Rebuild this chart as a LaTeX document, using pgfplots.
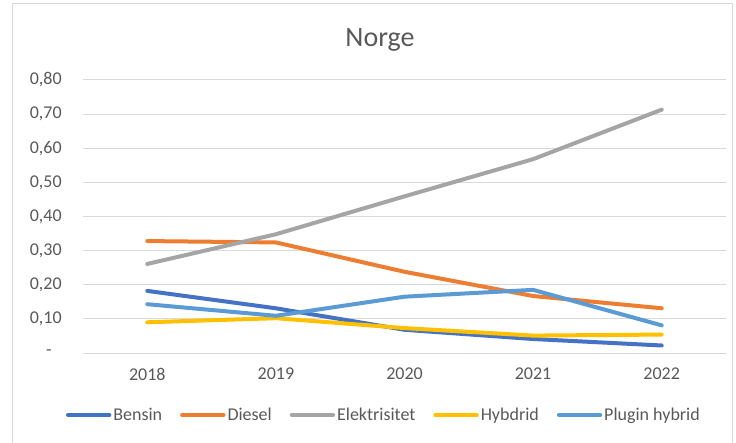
\documentclass[border=0pt]{standalone}
\usepackage{pgfplots}
\pgfplotsset{compat=1.18}
\usepackage{fontspec}
\setmainfont{Carlito}
\definecolor{txt}{HTML}{595959}
\definecolor{gridc}{HTML}{D9D9D9}
\definecolor{cBensin}{HTML}{4472C4}
\definecolor{cDiesel}{HTML}{ED7D31}
\definecolor{cEl}{HTML}{A5A5A5}
\definecolor{cHyb}{HTML}{FFC000}
\definecolor{cPlug}{HTML}{5B9BD5}
\begin{document}
\begin{tikzpicture}
% 1 px of the reference = 0.75pt
\begin{axis}[
    at={(62.25pt,67.5pt)}, anchor=south west,
    scale only axis,
    width=482.25pt, height=204.75pt,
    xmin=-0.5, xmax=4.5,
    ymin=0, ymax=0.8,
    xtick={0,1,2,3,4},
    xticklabels={2018,2019,2020,2021,2022},
    ytick={0,0.1,0.2,0.3,0.4,0.5,0.6,0.7,0.8},
    yticklabels={{-\kern7.5pt},{0,10},{0,20},{0,30},{0,40},{0,50},{0,60},{0,70},{0,80}},
    axis line style={draw=none},
    major tick length=0pt,
    ymajorgrids, grid style={gridc, line width=0.75pt},
    tick label style={font=\fontsize{13.5}{16}\selectfont, text=txt},
    yticklabel style={anchor=east, inner sep=0pt, xshift=-15.75pt},
    xticklabel style={anchor=north, inner sep=0pt, yshift=-11.25pt},
    legend columns=5,
    legend style={at={(0.468,-0.227)}, anchor=center, draw=none, fill=none,
        font=\fontsize{13.5}{16}\selectfont, text=txt,
        nodes={inner xsep=1.5pt},
        /tikz/every even column/.append style={column sep=12pt}},
    legend image code/.code={\draw[#1, line width=3pt, line cap=round] (0pt,0pt) -- (31pt,0pt);},
    every axis plot/.append style={line width=3pt, line cap=round, line join=round},
]
\addplot[cBensin] coordinates {(0,0.182)(1,0.131)(2,0.068)(3,0.041)(4,0.022)};
\addplot[cDiesel] coordinates {(0,0.328)(1,0.324)(2,0.238)(3,0.167)(4,0.131)};
\addplot[cEl] coordinates {(0,0.261)(1,0.348)(2,0.459)(3,0.568)(4,0.713)};
\addplot[cHyb] coordinates {(0,0.090)(1,0.102)(2,0.073)(3,0.051)(4,0.054)};
\addplot[cPlug] coordinates {(0,0.143)(1,0.109)(2,0.165)(3,0.185)(4,0.081)};
\legend{Bensin, Diesel, Elektrisitet, Hybdrid, Plugin hybrid}
\end{axis}
% chart frame and title
\draw[gridc, line width=0.75pt] (9pt,-15pt) -- (9pt,329.25pt) -- (549pt,329.25pt) -- (549pt,-15pt);
\node[anchor=base, text=txt, font=\fontsize{21}{25}\selectfont, inner sep=0pt] at (285pt,297pt) {Norge};
\pgfresetboundingbox
\useasboundingbox (0pt,0pt) rectangle (552pt,332.25pt);
\end{tikzpicture}
\end{document}
